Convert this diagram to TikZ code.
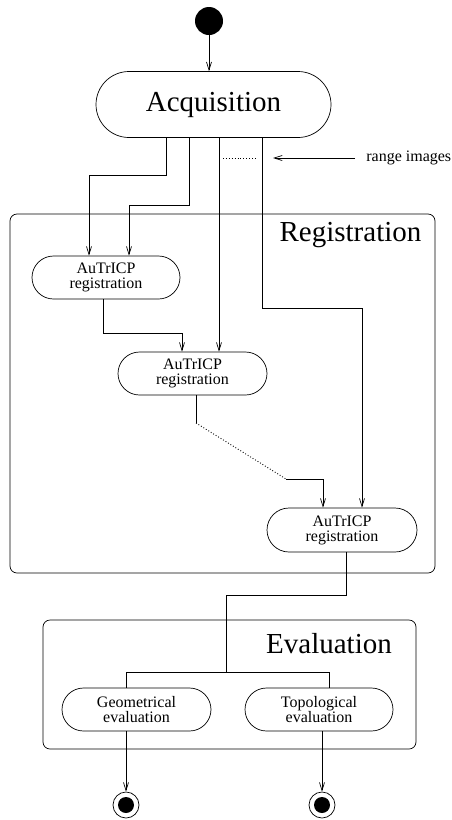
\documentclass[tikz,border=0pt]{standalone}
\usepackage{fontspec}
\setmainfont{Liberation Serif}
\usetikzlibrary{shapes.misc, arrows.meta}

\newcommand\bigtxt{\fontsize{29}{34}\selectfont}
\newcommand\midtxt{\fontsize{16}{15}\selectfont}

\begin{document}
\begin{tikzpicture}[x=1pt, y=-1pt, line width=0.7pt, >={Straight Barb[length=8pt,width=5pt]},
    activity/.style={rounded rectangle, draw, inner sep=0pt, align=center, font=\midtxt},
    frame/.style={rectangle, draw, rounded corners=7pt, inner sep=0pt},
    title/.style={anchor=base, font=\bigtxt},
    endpoint/.style={circle, draw, fill=white, minimum size=26pt, inner sep=0pt,
      path picture={\fill[black] (path picture bounding box.center) circle (8pt);}}]
  \useasboundingbox (0,0) rectangle (451,820);

  % frames
  \node[frame, minimum width=425pt, minimum height=359pt] (regframe) at (222.5,393.5) {};
  \node[title] (reglabel) at (350.5,241) {Registration};
  \node[frame, minimum width=373pt, minimum height=129pt] (evalframe) at (229.5,684.5) {};
  \node[title] (evallabel) at (329,653) {Evaluation};

  % activities
  \node[circle, fill, minimum size=28pt, inner sep=0pt] (start) at (209,21) {};
  \node[activity, minimum width=235pt, minimum height=66pt, font=\bigtxt] (acq) at (213.5,104.5) {Acquisition};
  \node[activity, minimum width=148pt, minimum height=43pt] (reg1) at (106,277.5) {AuTrICP\\registration};
  \node[activity, minimum width=149pt, minimum height=43pt] (reg2) at (192.5,373.5) {AuTrICP\\registration};
  \node[activity, minimum width=150pt, minimum height=44pt] (reg3) at (342,530) {AuTrICP\\registration};
  \node[activity, minimum width=149pt, minimum height=43pt] (geo) at (136.5,709.5) {Geometrical\\evaluation};
  \node[activity, minimum width=148pt, minimum height=43pt] (topo) at (319,709.5) {Topological\\evaluation};
  \node[endpoint] (end1) at (126,805) {};
  \node[endpoint] (end2) at (322,805) {};

  % range images
  \node[anchor=base west, inner sep=0pt, font=\midtxt] (range) at (366,161) {range images};
  \coordinate (rangetip) at (273,158);
  \coordinate (dotsA) at (223,158);
  \coordinate (dotsB) at (257,158);
  \draw[dotted, line width=0.9pt] (dotsA) -- (dotsB);
  \draw[->] (range.west |- rangetip) ++(-11,0) -- (rangetip);

  % flow
  \draw[->] (start) -- (acq.north -| start);
  \draw[->] ([xshift=-47.5pt]acq.south) -- ++(0,37) -| ([xshift=-17pt]reg1.north);
  \draw[->] ([xshift=-24.5pt]acq.south) -- ++(0,67) -| ([xshift=23pt]reg1.north);
  \draw[->] ([xshift=5.5pt]acq.south) -- ([xshift=26.5pt]reg2.north);
  \draw[->] ([xshift=48.5pt]acq.south) -- ++(0,170) -| ([xshift=20pt]reg3.north);
  \draw[->] ([xshift=-3pt]reg1.south) -- ++(0,34) -| ([xshift=-10.5pt]reg2.north);

  \coordinate (bendA) at (196,423);
  \coordinate (bendB) at (286,479);
  \draw (reg2.south -| bendA) -- (bendA);
  \draw[dotted, line width=0.9pt] (bendA) -- (bendB);
  \draw[->] (bendB) -| ([xshift=-19pt]reg3.north);

  \coordinate (fork) at (226,672);
  \draw ([xshift=4pt]reg3.south) -- ++(0,43) -| (fork);
  \draw (fork) -| ([xshift=-10.5pt]geo.north);
  \draw (fork) -| ([xshift=10pt]topo.north);
  \draw[->] ([xshift=-10.5pt]geo.south) -- (end1.north);
  \draw[->] ([xshift=3pt]topo.south) -- (end2.north);
\end{tikzpicture}
\end{document}
